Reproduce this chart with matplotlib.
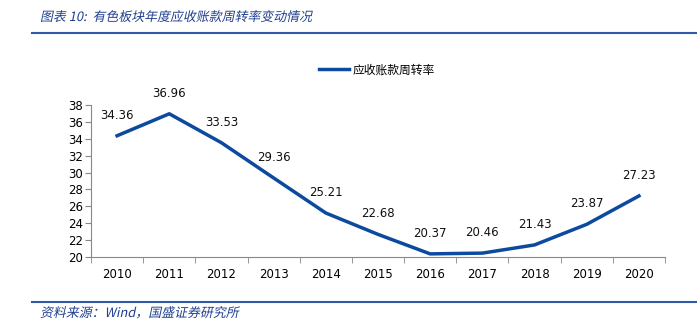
import matplotlib.pyplot as plt
from matplotlib.lines import Line2D
from matplotlib.textpath import TextPath
from matplotlib.patches import PathPatch
from matplotlib.font_manager import FontProperties
from matplotlib.transforms import Affine2D

plt.rcParams['font.family'] = ['DejaVu Sans', 'Noto Sans CJK SC']

# --- Data ---
years = ['2010', '2011', '2012', '2013', '2014', '2015', '2016', '2017', '2018', '2019', '2020']
turnover = [34.36, 36.96, 33.53, 29.36, 25.21, 22.68, 20.37, 20.46, 21.43, 23.87, 27.23]
y_ticks = list(range(20, 39, 2))

line_color = '#0B4A9E'
title_color = '#1F3F8F'
W, H, DPI = 697, 329, 100

fig = plt.figure(figsize=(W / DPI, H / DPI), dpi=DPI)
ax = fig.add_axes([91 / W, 1 - 257 / H, (665 - 91) / W, (257 - 105) / H])

x = list(range(len(years)))
ax.plot(x, turnover, color=line_color, lw=2.5, solid_joinstyle='round')

for xi, v in zip(x, turnover):
    ax.annotate(f"{v:.2f}", (xi, v), xytext=(0, 10), textcoords='offset points',
                ha='center', va='bottom', fontsize=8.5, color='#111111')

ax.set_xlim(-0.5, len(years) - 0.5)
ax.set_ylim(20, 38)
ax.set_yticks(y_ticks)
ax.set_xticks(x)
ax.set_xticklabels(years)
ax.set_xticks([i - 0.5 for i in range(len(years) + 1)], minor=True)
ax.tick_params(axis='x', which='major', length=0, pad=8, labelsize=8.5)
ax.tick_params(axis='x', which='minor', length=4, direction='out', color='#888888')
ax.tick_params(axis='y', length=4, direction='out', color='#888888', labelsize=8.5, pad=2)

for side in ['top', 'right']:
    ax.spines[side].set_visible(False)
ax.spines['left'].set_color('#888888')
ax.spines['bottom'].set_color('#888888')

# Legend
fig.legend(handles=[Line2D([0], [0], color=line_color, lw=2.5)], labels=['应收账款周转率'],
           loc='center', bbox_to_anchor=(377 / W, 1 - 70 / H), frameon=False,
           handlelength=2.6, handletextpad=0.3,
           prop={'family': ['Noto Sans CJK SC'], 'size': 8.5})


# slanted (faux italic) text, since the CJK font has no italic face
def slanted_text(s, x_px, y_px, size):
    tp = TextPath((0, 0), s, size=size, prop=FontProperties(family='Noto Sans CJK SC'))
    tr = Affine2D().skew_deg(12, 0).scale(DPI / 72).translate(x_px, y_px)
    fig.add_artist(PathPatch(tp, transform=tr, facecolor=title_color, edgecolor='none'))


slanted_text('图表 10:  有色板块年度应收账款周转率变动情况', 40, H - 21, 9.3)
slanted_text('资料来源：Wind，国盛证券研究所', 40, H - 317, 9.3)

fig.add_artist(Line2D([32 / W, 1], [1 - 33 / H, 1 - 33 / H], color='#2E5AA8', lw=1.5))
fig.add_artist(Line2D([32 / W, 1], [1 - 302 / H, 1 - 302 / H], color='#2E5AA8', lw=1.5))

fig.savefig('out.png', dpi=DPI)
